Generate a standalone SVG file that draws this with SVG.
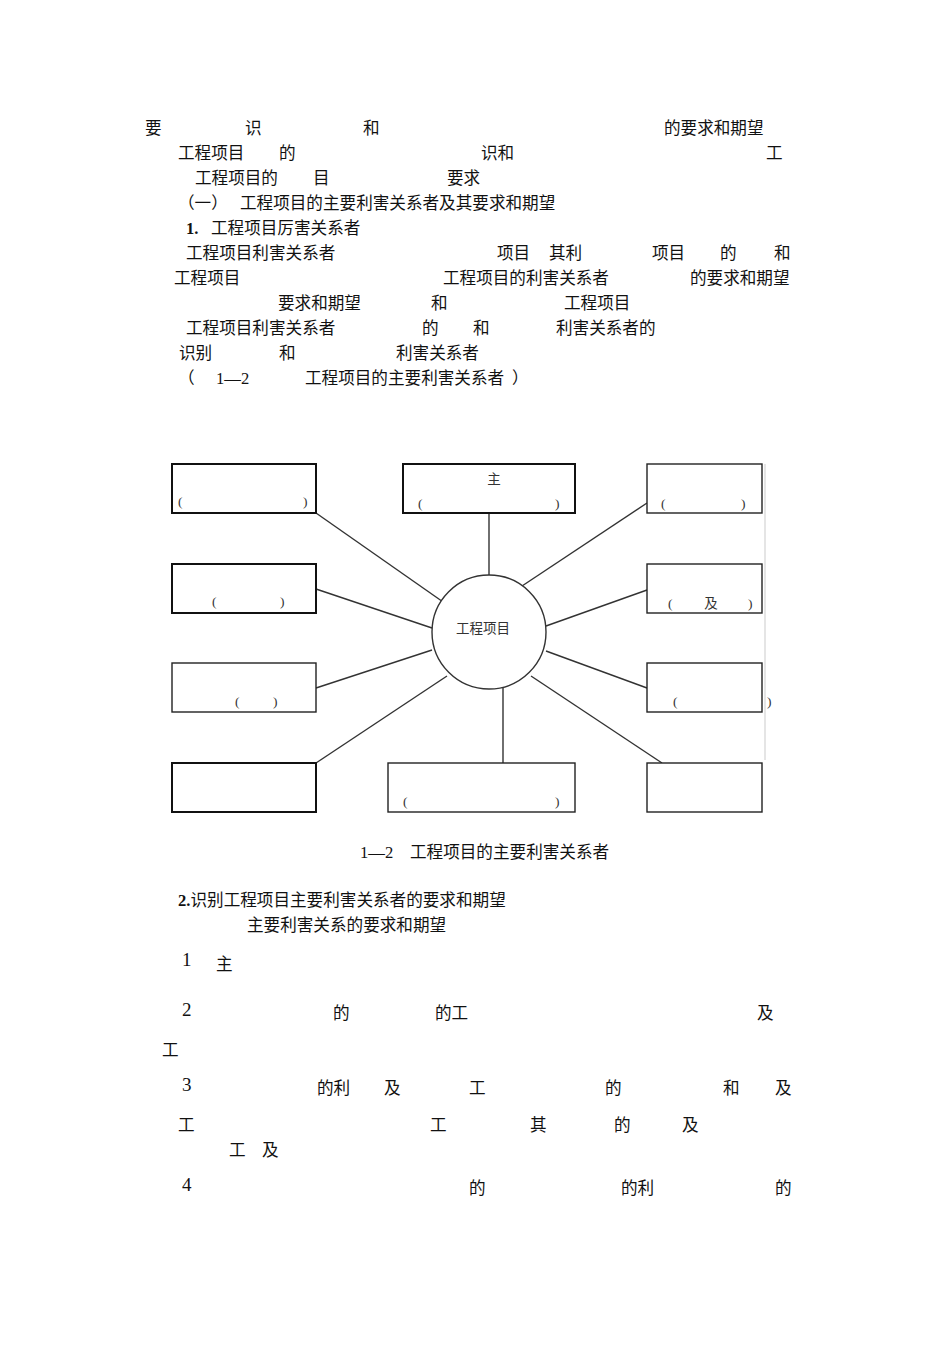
<svg xmlns="http://www.w3.org/2000/svg" width="950" height="1345" viewBox="0 0 950 1345">
<style>
.t{font-family:"Liberation Serif","Noto Sans CJK SC",serif;font-size:16.6px;fill:#111}
.n{font-family:"Liberation Serif","Noto Sans CJK SC",serif;font-size:19px;fill:#111}
.b{font-weight:bold}
.s{font-family:"Liberation Serif","Noto Sans CJK SC",serif;font-size:13.5px;fill:#333}
.bx{fill:#fff;stroke:#111;stroke-width:2}
.bt{fill:#fff;stroke:#222;stroke-width:1.4}
.ln{stroke:#333;stroke-width:1.4;fill:none}
</style>
<rect width="950" height="1345" fill="#fff"/>
<g id="text-top" class="t">
<text x="145" y="134">要</text><text x="245" y="134">识</text><text x="363" y="134">和</text><text x="664" y="134">的要求和期望</text>
<text x="178" y="159">工程项目</text><text x="279" y="159">的</text><text x="481" y="159">识和</text><text x="766" y="159">工</text>
<text x="195" y="184">工程项目的</text><text x="313" y="184">目</text><text x="447" y="184">要求</text>
<text x="178" y="209">（一）</text><text x="240" y="209">工程项目的主要利害关系者及其要求和期望</text>
<text x="186" y="234" class="b">1.</text><text x="211" y="234">工程项目厉害关系者</text>
<text x="186" y="259">工程项目利害关系者</text><text x="497" y="259">项目</text><text x="549" y="259">其利</text><text x="652" y="259">项目</text><text x="720" y="259">的</text><text x="774" y="259">和</text>
<text x="174" y="284">工程项目</text><text x="443" y="284">工程项目的利害关系者</text><text x="690" y="284">的要求和期望</text>
<text x="278" y="309">要求和期望</text><text x="431" y="309">和</text><text x="564" y="309">工程项目</text>
<text x="186" y="334">工程项目利害关系者</text><text x="422" y="334">的</text><text x="473" y="334">和</text><text x="556" y="334">利害关系者的</text>
<text x="179" y="359">识别</text><text x="279" y="359">和</text><text x="396" y="359">利害关系者</text>
<text x="178" y="384">（</text><text x="216" y="384">1—2</text><text x="305" y="384">工程项目的主要利害关系者</text><text x="512" y="384">）</text>
</g>
<g id="connectors">
<line class="ln" x1="316" y1="513" x2="446" y2="604"/>
<line class="ln" x1="489" y1="513" x2="489" y2="575" stroke-width="2.2"/>
<line class="ln" x1="647" y1="503" x2="519" y2="588"/>
<line class="ln" x1="316" y1="589" x2="432" y2="628"/>
<line class="ln" x1="647" y1="590" x2="546" y2="626"/>
<line class="ln" x1="316" y1="688" x2="432" y2="650"/>
<line class="ln" x1="546" y1="651" x2="647" y2="688"/>
<line class="ln" x1="316" y1="763" x2="447" y2="676"/>
<line class="ln" x1="503" y1="688" x2="503" y2="763"/>
<line class="ln" x1="531" y1="676" x2="662" y2="763"/>
<line x1="765" y1="464" x2="765" y2="760" stroke="#ddd" stroke-width="1.5"/>
</g>
<g id="center">
<circle cx="489" cy="632" r="57" fill="#fff" stroke="#333" stroke-width="1.4"/>
<text class="s" x="483" y="633" text-anchor="middle">工程项目</text>
</g>
<g id="n-tl"><rect class="bx" x="172" y="464" width="144" height="49"/><text class="s" x="178" y="506">(</text><text class="s" x="303" y="506">)</text></g>
<g id="n-tc"><rect class="bx" x="403" y="464" width="172" height="49"/><text class="s" x="494" y="484" text-anchor="middle">主</text><text class="s" x="418" y="508">(</text><text class="s" x="555" y="508">)</text></g>
<g id="n-tr"><rect class="bt" x="647" y="464" width="115" height="49"/><text class="s" x="661" y="508">(</text><text class="s" x="741" y="508">)</text></g>
<g id="n-ml1"><rect class="bx" x="172" y="564" width="144" height="49"/><text class="s" x="212" y="606">(</text><text class="s" x="280" y="606">)</text></g>
<g id="n-mr1"><rect class="bt" x="647" y="564" width="115" height="49"/><text class="s" x="668" y="608">(</text><text class="s" x="711" y="608" text-anchor="middle">及</text><text class="s" x="748" y="608">)</text></g>
<g id="n-ml2"><rect class="bt" x="172" y="663" width="144" height="49"/><text class="s" x="235" y="706">(</text><text class="s" x="273" y="706">)</text></g>
<g id="n-mr2"><rect class="bt" x="647" y="663" width="115" height="49"/><text class="s" x="673" y="706">(</text><text class="s" x="767" y="706">)</text></g>
<g id="n-bl"><rect class="bx" x="172" y="763" width="144" height="49"/></g>
<g id="n-bc"><rect class="bt" x="388" y="763" width="187" height="49"/><text class="s" x="403" y="806">(</text><text class="s" x="555" y="806">)</text></g>
<g id="n-br"><rect class="bt" x="647" y="763" width="115" height="49"/></g>
<g id="caption" class="t"><text x="360" y="858">1—2</text><text x="410" y="858">工程项目的主要利害关系者</text></g>
<g id="text-bottom" class="t">
<text x="178" y="906"><tspan class="b">2.</tspan>识别工程项目主要利害关系者的要求和期望</text>
<text x="247" y="931">主要利害关系的要求和期望</text>
<text x="182" y="966" class="n">1</text><text x="216" y="970">主</text>
<text x="182" y="1016" class="n">2</text><text x="333" y="1019">的</text><text x="435" y="1019">的工</text><text x="757" y="1019">及</text>
<text x="162" y="1056">工</text>
<text x="182" y="1091" class="n">3</text><text x="317" y="1094">的利</text><text x="384" y="1094">及</text><text x="469" y="1094">工</text><text x="605" y="1094">的</text><text x="723" y="1094">和</text><text x="775" y="1094">及</text>
<text x="178" y="1131">工</text><text x="430" y="1131">工</text><text x="530" y="1131">其</text><text x="614" y="1131">的</text><text x="682" y="1131">及</text>
<text x="229" y="1156">工</text><text x="262" y="1156">及</text>
<text x="182" y="1191" class="n">4</text><text x="469" y="1194">的</text><text x="621" y="1194">的利</text><text x="775" y="1194">的</text>
</g>
</svg>
